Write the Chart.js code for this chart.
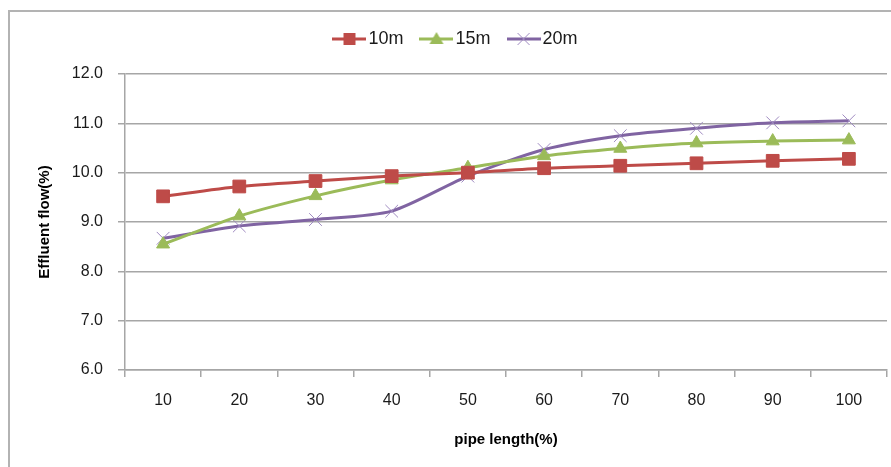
<!DOCTYPE html>
<html>
<head>
<meta charset="utf-8">
<script src="https://cdn.jsdelivr.net/npm/chart.js@4"></script>
<style>
  html, body { margin: 0; padding: 0; background: #fff; overflow: hidden; }
  #wrap { position: relative; width: 891px; height: 467px; }
  #moldura { position: absolute; left: 8px; top: 10px; width: 900px; height: 470px;
             border-left: 2px solid #b3b3b3; border-top: 2px solid #b3b3b3; }
  canvas { position: absolute; left: 0; top: 0; }
</style>
</head>
<body>
<div id="wrap">
  <div id="moldura"></div>
  <canvas id="myChart" width="891" height="467"></canvas>
</div>
<script>
var categorias = ["10", "20", "30", "40", "50", "60", "70", "80", "90", "100"];
var serie10m = [9.52, 9.72, 9.83, 9.93, 10.0, 10.09, 10.14, 10.19, 10.24, 10.28];
var serie15m = [8.55, 9.12, 9.53, 9.85, 10.1, 10.34, 10.49, 10.6, 10.64, 10.66];
var serie20m = [8.67, 8.92, 9.05, 9.22, 9.93, 10.47, 10.75, 10.9, 11.01, 11.05];
var nomes = ["10m", "15m", "20m"];
var eixoY = { min: 6, max: 12, passo: 1 };

var vermelho = "#be4b48";
var verde = "#9bbb59";
var roxo = "#8064a2";
var cinza = "#a6a6a6";
var fonte = "'Liberation Sans', Arial, sans-serif";

// icones da legenda: linha com marcador no meio
function icone(cor, tipo) {
  var c = document.createElement("canvas");
  c.width = 34;
  c.height = 16;
  var g = c.getContext("2d");
  g.strokeStyle = cor;
  g.lineWidth = 3;
  g.beginPath();
  g.moveTo(0, 8);
  g.lineTo(34, 8);
  g.stroke();
  g.fillStyle = cor;
  if (tipo == "rect") {
    g.fillRect(11, 2, 12, 12);
  } else if (tipo == "triangle") {
    g.beginPath();
    g.moveTo(17, 1);
    g.lineTo(24, 13);
    g.lineTo(10, 13);
    g.closePath();
    g.fill();
  } else {
    g.strokeStyle = "#9f8ac0";
    g.lineWidth = 1;
    g.beginPath();
    g.moveTo(11, 2);
    g.lineTo(23, 14);
    g.moveTo(23, 2);
    g.lineTo(11, 14);
    g.stroke();
  }
  return c;
}
var icones = [icone(vermelho, "rect"), icone(verde, "triangle"), icone(roxo, "cross")];

// altura fixa da legenda (v4 nao chama afterFit na legenda)
var alturaLegenda = {
  id: "alturaLegenda",
  beforeLayout: function (chart) {
    var leg = chart.legend;
    if (leg && !leg._ajustada) {
      var fitOriginal = leg.fit;
      leg.fit = function () {
        fitOriginal.call(this);
        this.height = 67;
      };
      leg._ajustada = true;
    }
  },
};

var ctx = document.getElementById("myChart");
var data = {
  labels: categorias,
  datasets: [
    {
      label: nomes[0],
      data: serie10m,
      borderColor: vermelho,
      backgroundColor: vermelho,
      pointStyle: "rect",
      pointRadius: 9,
      pointBorderWidth: 1,
      pointBackgroundColor: vermelho,
      pointBorderColor: vermelho,
    },
    {
      label: nomes[1],
      data: serie15m,
      borderColor: verde,
      backgroundColor: verde,
      pointStyle: "triangle",
      pointRadius: 7.5,
      pointBorderWidth: 1,
      pointBackgroundColor: verde,
      pointBorderColor: verde,
    },
    {
      label: nomes[2],
      data: serie20m,
      borderColor: roxo,
      backgroundColor: roxo,
      pointStyle: "crossRot",
      pointRadius: 9,
      pointBorderWidth: 1,
      pointBorderColor: "#9f8ac0",
    },
  ],
};

var config = {
  type: "line",
  data,
  plugins: [alturaLegenda],
  options: {
    responsive: false,
    animation: false,
    events: [],
    elements: { line: { borderWidth: 3, tension: 0.25 } },
    layout: { autoPadding: false, padding: { left: 30, right: 4, top: 7, bottom: 14 } },
    plugins: {
      tooltip: { enabled: false },
      legend: {
        position: "top",
        labels: {
          usePointStyle: true,
          pointStyleWidth: 20,
          padding: 23,
          color: "#1a1a1a",
          font: { family: fonte, size: 18 },
          generateLabels: function (chart) {
            var itens = Chart.defaults.plugins.legend.labels.generateLabels(chart);
            itens.forEach(function (it, i) {
              it.pointStyle = icones[i];
            });
            return itens;
          },
        },
      },
    },
    scales: {
      x: {
        offset: true,
        grid: { drawOnChartArea: false, offset: true, tickLength: 7, color: cinza, lineWidth: 1.5 },
        border: { color: cinza, width: 1.5 },
        ticks: { color: "#1a1a1a", font: { family: fonte, size: 16 }, padding: 14 },
        title: {
          display: true,
          text: "pipe length(%)",
          color: "#000",
          font: { family: fonte, size: 15, weight: "bold" },
          padding: { top: 4, bottom: 4 },
        },
        afterFit: function (scale) {
          scale.height = 83;
          scale.paddingLeft = 0;
          scale.paddingRight = 0;
        },
      },
      y: {
        min: eixoY.min,
        max: eixoY.max,
        ticks: {
          stepSize: eixoY.passo,
          color: "#1a1a1a",
          font: { family: fonte, size: 16 },
          padding: 15,
          callback: function (v) {
            return v.toFixed(1);
          },
        },
        grid: { tickLength: 7, color: cinza, lineWidth: 1.5 },
        border: { color: cinza, width: 1.5 },
        title: {
          display: true,
          text: "Effluent flow(%)",
          color: "#000",
          font: { family: fonte, size: 15, weight: "bold" },
          padding: { top: 6, bottom: 4 },
        },
        afterFit: function (scale) {
          scale.width = 95;
        },
      },
    },
  },
};

var myChart = new Chart(ctx, config);
</script>
</body>
</html>
